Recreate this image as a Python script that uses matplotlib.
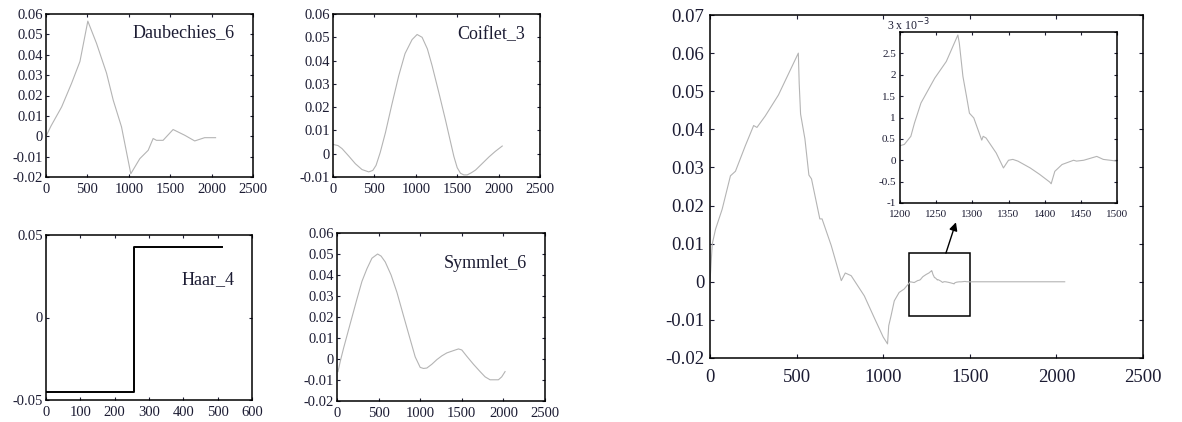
import matplotlib
matplotlib.use("Agg")
import matplotlib.pyplot as plt
from matplotlib.patches import Rectangle
from matplotlib.ticker import FuncFormatter

plt.rcParams["font.family"] = ["Liberation Serif", "DejaVu Serif"]
plt.rcParams["axes.unicode_minus"] = False

# wavelet shapes (sample index, amplitude)
db6_x = [0, 60, 189, 309, 410, 505, 610, 731, 812, 912, 1024, 1133, 1234, 1294,
         1334, 1414, 1535, 1675, 1796, 1916, 2048]
db6_y = [0.0, 0.005, 0.0144, 0.026, 0.0367, 0.0565, 0.0456, 0.031, 0.0177, 0.0046,
         -0.0184, -0.011, -0.0069, -0.0011, -0.002, -0.002, 0.0033, 0.0005,
         -0.0023, -0.0007, -0.0007]

coif3_x = [0, 60, 109, 190, 270, 350, 431, 480, 520, 570, 633, 710, 794, 870, 955,
           1016, 1076, 1140, 1197, 1280, 1359, 1410, 1460, 1500, 1540, 1580, 1621,
           1670, 1722, 1800, 1883, 1960, 2044]
coif3_y = [0.004, 0.0035, 0.0022, -0.001, -0.0043, -0.0068, -0.0078, -0.0072,
           -0.005, 0.0005, 0.009, 0.021, 0.0335, 0.043, 0.049, 0.0512, 0.050, 0.045,
           0.0378, 0.026, 0.0144, 0.0065, -0.0012, -0.006, -0.0084, -0.0091, -0.0091,
           -0.0082, -0.007, -0.0043, -0.0014, 0.001, 0.0033]

haar_x = [0, 256, 256, 512]
haar_y = [-0.045, -0.045, 0.043, 0.043]

sym6_x = [12, 40, 80, 160, 240, 300, 360, 420, 488, 530, 580, 650, 720, 800, 880,
          940, 1000, 1040, 1080, 1140, 1200, 1260, 1320, 1400, 1460, 1500, 1560,
          1640, 1720, 1780, 1840, 1940, 1980, 2020]
sym6_y = [-0.006, -0.001, 0.0053, 0.017, 0.0286, 0.037, 0.043, 0.048, 0.050, 0.049,
          0.0462, 0.040, 0.0318, 0.0205, 0.0093, 0.001, -0.004, -0.0045, -0.0043,
          -0.0025, -0.0003, 0.0015, 0.0029, 0.004, 0.0048, 0.0043, 0.0013, -0.0025,
          -0.006, -0.0085, -0.0099, -0.0099, -0.0085, -0.006]

# reconstructed signal
sig_x = [0, 13, 32, 70, 118, 147, 204, 252, 271, 319, 395, 510, 515, 523, 548, 571,
         586, 634, 647, 700, 758, 781, 815, 891, 948, 1000, 1025, 1032, 1044, 1064,
         1092, 1121, 1156, 1179,
         1200, 1206, 1215, 1220, 1229, 1248, 1264, 1280, 1282, 1287, 1292, 1296,
         1302, 1313, 1315, 1319, 1333, 1343, 1350, 1356, 1363, 1380, 1393, 1407,
         1409, 1414, 1424, 1440, 1444, 1454, 1472, 1481, 1500, 1520, 2048]
sig_y = [0.0, 0.0099, 0.0138, 0.019, 0.0278, 0.029, 0.0357, 0.041, 0.0405, 0.0435,
         0.049, 0.060, 0.052, 0.044, 0.0375, 0.028, 0.027, 0.0165, 0.0165, 0.0095,
         0.0003, 0.0023, 0.0016, -0.0037, -0.0094, -0.0145, -0.0163, -0.0115,
         -0.0092, -0.005, -0.0028, -0.0019, 0.0, -0.0002,
         0.00034, 0.00037, 0.00056, 0.00087, 0.00134, 0.00192, 0.00231, 0.00293,
         0.00274, 0.00196, 0.00149, 0.0011, 0.00099, 0.00047, 0.00056, 0.00052,
         0.00017, -0.00018, 0.0, 0.00002, -0.00002, -0.00018, -0.00033, -0.00051,
         -0.00055, -0.00026, -0.0001, 0.0, -0.00002, 0.0, 0.00009, 0.00002,
         -0.00002, 0.0, 0.0]

W, H = 1182, 422
GRAY = "#b4b4b4"
fmt = FuncFormatter(lambda v, p: "%g" % round(v, 6))


def add_ax(fig, left, top, right, bottom):
    return fig.add_axes([left / W, 1 - bottom / H, (right - left) / W, (bottom - top) / H])


def style(ax, fs, tlen, xpad, ypad):
    ax.tick_params(direction="in", top=True, right=True, length=tlen, width=0.8,
                   labelsize=fs, colors="#1c1c33")
    ax.tick_params(axis="x", pad=xpad)
    ax.tick_params(axis="y", pad=ypad)
    ax.xaxis.set_major_formatter(fmt)
    ax.yaxis.set_major_formatter(fmt)
    for s in ax.spines.values():
        s.set_linewidth(1.1)


fig = plt.figure(figsize=(W / 100, H / 100), dpi=100)

small = [
    (db6_x, db6_y, (46, 14, 253, 177), (-0.02, 0.06), 0.01, (0, 2500), 500,
     "Daubechies_6", (0.913, 0.883), GRAY, 0.8),
    (coif3_x, coif3_y, (333, 14, 540, 177), (-0.01, 0.06), 0.01, (0, 2500), 500,
     "Coiflet_3", (0.928, 0.871), GRAY, 0.8),
    (haar_x, haar_y, (46, 235, 252, 400), (-0.05, 0.05), 0.05, (0, 600), 100,
     "Haar_4", (0.917, 0.727), "black", 1.4),
    (sym6_x, sym6_y, (337, 233, 545, 401), (-0.02, 0.06), 0.01, (0, 2500), 500,
     "Symmlet_6", (0.913, 0.821), GRAY, 0.8),
]

for xs, ys, box, ylim, ystep, xlim, xstep, name, tpos, col, lw in small:
    ax = add_ax(fig, *box)
    ax.plot(xs, ys, color=col, lw=lw)
    ax.set_xlim(*xlim)
    ax.set_ylim(*ylim)
    n = int(round((ylim[1] - ylim[0]) / ystep))
    ax.set_yticks([ylim[0] + i * ystep for i in range(n + 1)])
    ax.set_xticks(list(range(xlim[0], xlim[1] + 1, xstep)))
    style(ax, 10.5, 2.2, 4, 2)
    ax.text(tpos[0], tpos[1], name, transform=ax.transAxes, ha="right", va="center",
            fontsize=13, color="#1c1c33")

# main panel
ax = add_ax(fig, 710, 15, 1143, 358)
ax.plot(sig_x, sig_y, color=GRAY, lw=0.8)
ax.set_xlim(0, 2500)
ax.set_ylim(-0.02, 0.07)
ax.set_xticks(range(0, 2501, 500))
ax.set_yticks([i / 100 for i in range(-2, 8)])
style(ax, 13.5, 3, 8, 4)
ax.add_patch(Rectangle((1150, -0.009), 350, 0.0165, fill=False, ec="black", lw=1.1))
ax.annotate("", xy=(1420, 0.0156), xytext=(1362, 0.0075),
            arrowprops=dict(arrowstyle="-|>", color="black", lw=1.0,
                            mutation_scale=12, shrinkA=0, shrinkB=0))

# zoomed detail
ins = add_ax(fig, 900, 32, 1117, 203)
ins.plot(sig_x, [v * 1e3 for v in sig_y], color=GRAY, lw=0.8)
ins.set_xlim(1200, 1500)
ins.set_ylim(-1, 3)
ins.set_xticks(range(1200, 1501, 50))
yt = [-1 + 0.5 * i for i in range(9)]
ins.set_yticks(yt)
style(ins, 8, 2, 5, 3)
ins.set_yticklabels(["%g" % v for v in yt[:-1]] + [""])
ins.text(-0.06, 1.04, "3 x 10$^{-3}$", transform=ins.transAxes, ha="left",
         va="center", fontsize=8.5, color="#1c1c33")

fig.savefig("out.png", dpi=100)
